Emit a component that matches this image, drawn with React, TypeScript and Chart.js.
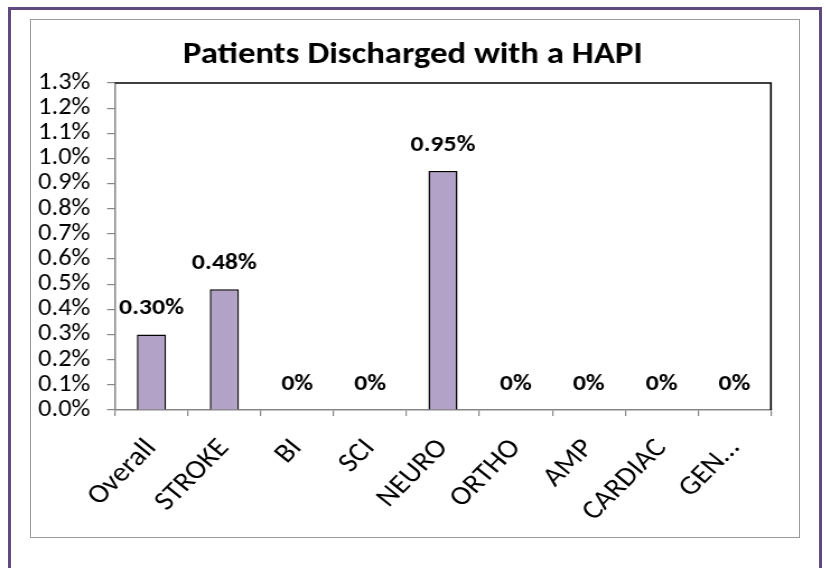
import React, { useEffect, useRef } from "react";
import { Chart, registerables } from "chart.js";

Chart.register(...registerables);

const chartTitle = "Patients Discharged with a HAPI";
const categories = ["Overall", "STROKE", "BI", "SCI", "NEURO", "ORTHO", "AMP", "CARDIAC", "GEN…"];
const values = [0.3, 0.48, 0, 0, 0.95, 0, 0, 0, 0];
const valueLabels = ["0.30%", "0.48%", "0%", "0%", "0.95%", "0%", "0%", "0%", "0%"];
const yTickLabels = ["0.0%", "0.1%", "0.2%", "0.3%", "0.4%", "0.5%", "0.6%", "0.7%", "0.8%", "0.9%", "1.0%", "1.1%", "1.2%", "1.3%"];
const yMin = 0;
const yMax = 1.3;
const yStep = 0.1;

const FONT = "Carlito, Calibri, Lato, sans-serif";
const STRETCH = 1.12;
const CW = Math.round(826 / STRETCH);
const CH = 568;
const X_ROT = (Math.atan(STRETCH) * 180) / Math.PI;

const framePlugin = {
  id: "frame",
  afterLayout(chart: any) {
    const tb = chart.titleBlock;
    if (tb) {
      tb.left = 0;
      tb.right = chart.width;
      tb.width = chart.width;
    }
  },
  afterDatasetsDraw(chart: any) {
    const { ctx, chartArea } = chart;
    ctx.save();
    ctx.strokeStyle = "#000";
    ctx.lineWidth = 1.6;
    ctx.beginPath();
    ctx.moveTo(chartArea.left, chartArea.top);
    ctx.lineTo(chartArea.right, chartArea.top);
    ctx.lineTo(chartArea.right, chartArea.bottom);
    ctx.stroke();

    const meta = chart.getDatasetMeta(0);
    ctx.fillStyle = "#000";
    ctx.font = `bold 23px ${FONT}`;
    ctx.textAlign = "center";
    ctx.textBaseline = "middle";
    meta.data.forEach((bar: any, i: number) => {
      ctx.fillText(valueLabels[i], bar.x, bar.y - 26);
    });
    ctx.restore();
  },
};

export default function App() {
  const ref = useRef<HTMLCanvasElement | null>(null);
  useEffect(() => {
    if (!ref.current) return;
    const chart = new Chart(ref.current, {
      type: "bar",
      data: {
        labels: categories,
        datasets: [
          {
            data: values,
            backgroundColor: "#b3a2c7",
            borderColor: "#000",
            borderWidth: 1.5,
            barPercentage: 0.4,
            categoryPercentage: 1,
          },
        ],
      },
      options: {
        animation: false,
        responsive: false,
        layout: { padding: { left: 26.8, right: 48.7, top: 0, bottom: 0 } },
        plugins: {
          legend: { display: false },
          tooltip: { enabled: false },
          title: {
            display: true,
            text: chartTitle,
            color: "#000",
            font: { family: FONT, size: 31, weight: "bold" },
            padding: { top: 36.4, bottom: 9.4 },
          },
        },
        scales: {
          x: {
            offset: true,
            grid: { display: true, drawOnChartArea: false, drawTicks: true, tickLength: 6, color: "#868686", offset: true, lineWidth: 1.2 },
            border: { color: "#868686", width: 1.5 },
            ticks: {
              color: "#000",
              font: { family: FONT, size: 27 },
              minRotation: X_ROT,
              maxRotation: X_ROT,
              autoSkip: false,
              padding: 17,
            },
            afterFit: (s: any) => {
              s.height = 158;
            },
          },
          y: {
            min: yMin,
            max: yMax,
            ticks: {
              stepSize: yStep,
              autoSkip: false,
              color: "#000",
              font: { family: FONT, size: 23.5 },
              padding: 15,
              callback: (_v: any, i: number) => yTickLabels[i],
            },
            grid: { drawOnChartArea: false, tickLength: 7.1, color: "#868686", lineWidth: 1.2 },
            border: { color: "#868686", width: 1.5 },
            afterFit: (s: any) => {
              s.width = 75.9;
            },
          },
        },
      },
      plugins: [framePlugin],
    });
    return () => chart.destroy();
  }, []);

  return (
    <div style={{ position: "absolute", left: 0, top: 0, width: 826, height: 568, overflow: "hidden", background: "#fff" }}>
      <div style={{ position: "absolute", left: 8, top: 7, width: 808, height: 600, border: "3px solid #5f4a80" }} />
      <div style={{ position: "absolute", left: 30, top: 19, width: 768, height: 517, border: "1px solid #9a9a9a" }} />
      <canvas
        ref={ref}
        width={CW}
        height={CH}
        style={{ position: "absolute", left: 0, top: 0, width: CW, height: CH, transform: `scaleX(${STRETCH})`, transformOrigin: "0 0" }}
      />
    </div>
  );
}
